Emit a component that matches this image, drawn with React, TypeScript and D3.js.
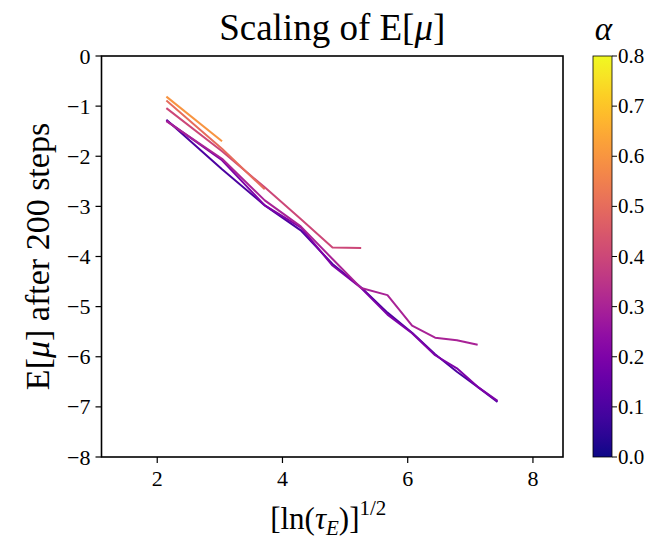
import React from 'react';
import * as d3 from 'd3';

// x positions: sqrt(ln(tau)) for tau = 10^2, 10^4, ..., 10^24
const xs = [2.146, 3.035, 3.717, 4.292, 4.799, 5.257, 5.677, 6.070, 6.438, 6.786, 7.117, 7.434];

const alphas = [0.1, 0.2, 0.3, 0.4, 0.5, 0.6];
const mu01 = [-1.27, -2.26, -2.98, -3.48, -4.15, -4.62, -5.12, -5.52, -5.95, -6.30, -6.60, -6.90];
const mu02 = [-1.29, -2.08, -2.98, -3.42, -4.18, -4.63, -5.16, -5.53, -5.97, -6.23, -6.60, -6.88];
const mu03 = [-1.30, -2.05, -2.88, -3.40, -4.05, -4.63, -4.77, -5.38, -5.62, -5.67, -5.76];
const mu04 = [-1.04, -1.90, -2.62, -3.25, -3.82, -3.83];
const mu05 = [-0.89, -1.85, -2.66];
const mu06 = [-0.81, -1.70];
const seriesList = [mu01, mu02, mu03, mu04, mu05, mu06];

const xTicks = [2, 4, 6, 8];
const yTicks = [0, -1, -2, -3, -4, -5, -6, -7, -8];
const cTicks = [0, 0.1, 0.2, 0.3, 0.4, 0.5, 0.6, 0.7, 0.8];

const W = 672, H = 541;
const left = 101.5, right = 563, top = 56, bottom = 457;
const cbLeft = 593, cbRight = 612;
const font = '"Liberation Serif", "DejaVu Serif", serif';

const App = () => {
	const x = d3.scaleLinear().domain([1.11, 8.48]).range([left, right]);
	const y = d3.scaleLinear().domain([-8, 0]).range([bottom, top]);
	const c = d3.scaleLinear().domain([0, 0.8]).range([bottom, top]);
	const color = (a: number) => d3.interpolatePlasma(a / 0.8);
	const line = d3.line<[number, number]>().x((d) => x(d[0])).y((d) => y(d[1]));
	const stops = d3.range(0, 1.0001, 0.05);

	return (
		<svg width={W} height={H} style={{ position: 'absolute', left: 0, top: 0 }} fontFamily={font}>
			<defs>
				<linearGradient id="plasma" x1="0" y1="1" x2="0" y2="0">
					{stops.map((t) => (
						<stop key={t} offset={t} stopColor={d3.interpolatePlasma(t)} />
					))}
				</linearGradient>
			</defs>
			<rect width={W} height={H} fill="white" />

			{/* lines */}
			<g fill="none" strokeWidth={2} strokeLinejoin="round">
				{seriesList.map((s, i) => (
					<path key={i} d={line(s.map((v, j) => [xs[j], v] as [number, number])) || ''} stroke={color(alphas[i])} />
				))}
			</g>

			{/* frame */}
			<rect x={left} y={top} width={right - left} height={bottom - top} fill="none" stroke="black" strokeWidth={1.6} />

			{/* x axis */}
			{xTicks.map((t) => (
				<g key={t}>
					<line x1={x(t)} x2={x(t)} y1={bottom} y2={bottom + 6} stroke="black" strokeWidth={1.2} />
					<text x={x(t)} y={bottom + 29} textAnchor="middle" fontSize={22}>{t}</text>
				</g>
			))}
			{/* y axis */}
			{yTicks.map((t) => (
				<g key={t}>
					<line x1={left - 6} x2={left} y1={y(t)} y2={y(t)} stroke="black" strokeWidth={1.2} />
					<text x={left - 11} y={y(t) + 7.5} textAnchor="end" fontSize={22}>{t === 0 ? '0' : '\u2212' + Math.abs(t)}</text>
				</g>
			))}

			{/* title */}
			<text x={(left + right) / 2} y={40} textAnchor="middle" fontSize={37}>
				Scaling of E[<tspan fontStyle="italic">μ</tspan>]
			</text>

			{/* x label */}
			<text x={(left + right) / 2 - 4} y={529} textAnchor="middle" fontSize={31}>
				[ln(<tspan fontStyle="italic">τ</tspan><tspan fontStyle="italic" fontSize={21} dy={6}>E</tspan><tspan dy={-6}>)]</tspan><tspan fontSize={21} dy={-14}>1/2</tspan>
			</text>

			{/* y label */}
			<text transform={`translate(49, ${(top + bottom) / 2}) rotate(-90)`} textAnchor="middle" fontSize={34}>
				E[<tspan fontStyle="italic">μ</tspan>] after 200 steps
			</text>

			{/* colorbar */}
			<rect x={cbLeft} y={top} width={cbRight - cbLeft} height={bottom - top} fill="url(#plasma)" stroke="black" strokeWidth={0.8} />
			{cTicks.map((t) => (
				<g key={t}>
					<line x1={cbRight} x2={cbRight + 5} y1={c(t)} y2={c(t)} stroke="black" strokeWidth={1} />
					<text x={cbRight + 6} y={c(t) + 7} fontSize={21}>{t.toFixed(1)}</text>
				</g>
			))}
			<text x={(cbLeft + cbRight) / 2 + 1} y={40} textAnchor="middle" fontSize={33} fontStyle="italic">α</text>
		</svg>
	);
};

export default App;
